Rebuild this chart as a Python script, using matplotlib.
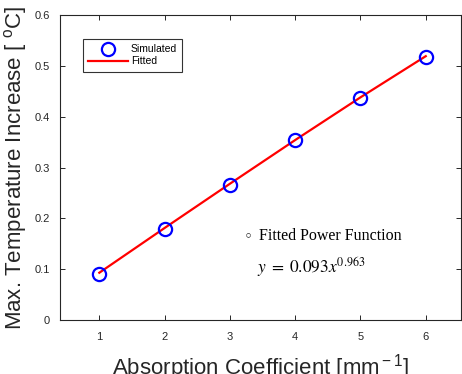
import matplotlib
matplotlib.use('Agg')
import matplotlib.pyplot as plt

# simulated points and fitted curve
absorption = [1, 2, 3, 4, 5, 6]
temp_rise = [0.090, 0.179, 0.266, 0.354, 0.437, 0.518]
fit_x = [1, 2, 3, 4, 5, 6]
fit_y = [0.093, 0.181, 0.268, 0.354, 0.438, 0.519]
x_ticks = [1, 2, 3, 4, 5, 6]
y_ticks = [0, 0.1, 0.2, 0.3, 0.4, 0.5, 0.6]
y_tick_labels = ['0', '0.1', '0.2', '0.3', '0.4', '0.5', '0.6']

plt.rcParams['font.family'] = ['Liberation Sans', 'DejaVu Sans']
plt.rcParams['mathtext.fontset'] = 'custom'
plt.rcParams['mathtext.rm'] = 'Liberation Sans'
plt.rcParams['mathtext.it'] = 'Liberation Sans:italic'

axis_col = '#262626'

fig = plt.figure(figsize=(4.62, 3.74), dpi=100)
ax = fig.add_axes([59.5 / 462, 54 / 374, 401.5 / 462, 305 / 374])

ax.plot(absorption, temp_rise, 'o', mfc='none', mec='#0000ff', ms=9.5, mew=1.6,
        label='Simulated', zorder=3)
ax.plot(fit_x, fit_y, '-', color='#ff0000', lw=1.6, label='Fitted', zorder=2)

ax.set_xlim(0.39, 6.54)
ax.set_ylim(0, 0.6)
ax.set_xticks(x_ticks)
ax.set_yticks(y_ticks)
ax.set_yticklabels(y_tick_labels)
ax.tick_params(direction='in', top=True, right=True, length=3.5, width=0.7,
               labelsize=8, colors=axis_col, pad=7)
ax.tick_params(axis='x', pad=9)
for s in ax.spines.values():
    s.set_color(axis_col)
    s.set_linewidth(0.8)

ax.set_xlabel(r'Absorption Coefficient [mm$^{\rm -1}$]', fontsize=16,
              color=axis_col, labelpad=7)
ax.set_ylabel(r'Max. Temperature Increase [ $^{\rm o}$C]', fontsize=16,
              color=axis_col, labelpad=4)

leg = ax.legend(loc='upper left', bbox_to_anchor=(23.5 / 401.5, 1 - 24 / 305),
                fontsize=7.5, frameon=True, fancybox=False, edgecolor='black',
                handlelength=3.8, handletextpad=0.3, borderpad=0.5,
                labelspacing=0.2, borderaxespad=0)
leg.get_frame().set_linewidth(0.8)

ax.text(3.28, 0.163, '\u25e6', fontsize=11, ha='center', va='center',
        family=['DejaVu Sans'], color='black')
ax.text(3.445, 0.165, 'Fitted Power Function', fontsize=11.5, ha='left',
        va='center', family=['Liberation Serif', 'DejaVu Serif'], color='black')
ax.text(4.24, 0.104, r'$y\;=\;0.093x^{0.963}$', fontsize=12.5, ha='center',
        va='center', color='black', math_fontfamily='stix')

fig.savefig('out.png', dpi=100)
